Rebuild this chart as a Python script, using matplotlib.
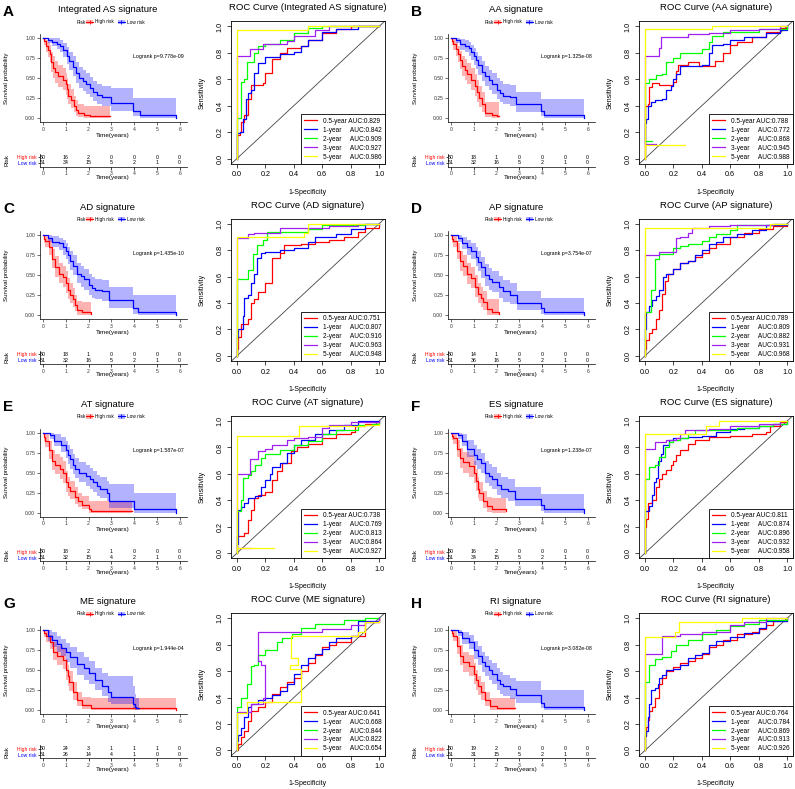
import numpy as np
import matplotlib.pyplot as plt
from matplotlib.lines import Line2D
from matplotlib.patches import Patch

plt.rcParams['font.family'] = ['Liberation Sans', 'DejaVu Sans']

# ---------------- data ----------------
letters = ['A', 'B', 'C', 'D', 'E', 'F', 'G', 'H']
titles = ['Integrated AS signature', 'AA signature', 'AD signature', 'AP signature',
          'AT signature', 'ES signature', 'ME signature', 'RI signature']
pvals = ['9.778e-09', '1.325e-08', '1.435e-10', '3.754e-07',
         '1.587e-07', '1.238e-07', '1.944e-04', '3.082e-08']
risk_high = [[50, 16, 2, 0, 0, 0, 0], [50, 18, 1, 0, 0, 0, 0], [50, 18, 1, 0, 0, 0, 0],
             [50, 14, 1, 0, 0, 0, 0], [50, 18, 2, 1, 0, 0, 0], [50, 16, 2, 0, 0, 0, 0],
             [50, 24, 3, 1, 1, 1, 0], [50, 19, 2, 0, 0, 0, 0]]
risk_low = [[51, 34, 15, 5, 2, 1, 0], [51, 32, 16, 5, 2, 1, 0], [51, 32, 16, 5, 2, 1, 0],
            [51, 36, 16, 5, 2, 1, 0], [51, 32, 15, 4, 2, 1, 0], [51, 34, 15, 5, 2, 1, 0],
            [51, 26, 14, 4, 1, 0, 0], [51, 31, 15, 5, 2, 1, 0]]
years = ['0.5-year', '1-year', '2-year', '3-year', '5-year']
auc = [[0.829, 0.842, 0.909, 0.927, 0.986], [0.788, 0.772, 0.868, 0.945, 0.988],
       [0.751, 0.807, 0.916, 0.963, 0.948], [0.789, 0.809, 0.882, 0.931, 0.968],
       [0.738, 0.769, 0.813, 0.864, 0.927], [0.811, 0.874, 0.896, 0.932, 0.958],
       [0.641, 0.668, 0.844, 0.822, 0.654], [0.764, 0.784, 0.869, 0.913, 0.926]]
roc_colors = ['#FF0000', '#0000FF', '#00FF00', '#A020F0', '#FFFF00']

# Kaplan-Meier steps: time, survival, lower CI, upper CI
A_hi_t = [0, 0.05, 0.12, 0.2, 0.29, 0.36, 0.44, 0.55, 0.66, 0.88, 1.0, 1.05, 1.12, 1.25, 1.35, 1.45, 1.55, 1.8, 2.05, 2.93]
A_hi_s = [1.0, 0.96, 0.9, 0.85, 0.8, 0.7, 0.63, 0.57, 0.52, 0.48, 0.42, 0.36, 0.28, 0.22, 0.15, 0.1, 0.06, 0.04, 0.02, 0.02]
A_hi_lo = [1.0, 0.91, 0.83, 0.76, 0.7, 0.58, 0.5, 0.44, 0.39, 0.35, 0.29, 0.24, 0.17, 0.12, 0.07, 0.03, 0.01, 0.0, 0.0, 0.0]
A_hi_up = [1.0, 1.0, 0.98, 0.95, 0.91, 0.83, 0.77, 0.71, 0.66, 0.62, 0.56, 0.5, 0.42, 0.36, 0.28, 0.22, 0.17, 0.15, 0.15, 0.15]
A_lo_t = [0, 0.2, 0.4, 0.6, 0.75, 0.9, 1.05, 1.15, 1.3, 1.45, 1.6, 1.75, 1.9, 2.05, 2.2, 2.35, 2.6, 3.0, 3.95, 4.25, 5.85]
A_lo_s = [1.0, 0.98, 0.95, 0.93, 0.9, 0.85, 0.78, 0.71, 0.64, 0.56, 0.5, 0.46, 0.42, 0.37, 0.32, 0.29, 0.26, 0.19, 0.09, 0.04, 0.0]
A_lo_lo = [1.0, 0.94, 0.9, 0.86, 0.82, 0.76, 0.68, 0.6, 0.52, 0.44, 0.38, 0.34, 0.3, 0.26, 0.21, 0.18, 0.15, 0.09, 0.02, 0.0, 0.0]
A_lo_up = [1.0, 1.0, 1.0, 1.0, 0.98, 0.94, 0.89, 0.83, 0.77, 0.7, 0.64, 0.6, 0.56, 0.51, 0.46, 0.43, 0.4, 0.38, 0.25, 0.25, 0.25]

B_hi_t = [0, 0.05, 0.1, 0.2, 0.3, 0.4, 0.5, 0.6, 0.7, 0.9, 1.05, 1.15, 1.25, 1.35, 1.5, 1.8, 2.0, 2.1]
B_hi_s = [1.0, 0.96, 0.92, 0.86, 0.8, 0.72, 0.65, 0.6, 0.55, 0.48, 0.4, 0.32, 0.25, 0.17, 0.06, 0.04, 0.02, 0.02]
B_hi_lo = [1.0, 0.91, 0.85, 0.77, 0.7, 0.61, 0.53, 0.47, 0.42, 0.35, 0.27, 0.2, 0.14, 0.08, 0.01, 0.0, 0.0, 0.0]
B_hi_up = [1.0, 1.0, 0.99, 0.95, 0.9, 0.84, 0.78, 0.74, 0.69, 0.62, 0.55, 0.47, 0.4, 0.32, 0.2, 0.2, 0.2, 0.2]
B_lo_t = [0, 0.2, 0.4, 0.6, 0.8, 0.9, 1.0, 1.1, 1.2, 1.35, 1.5, 1.65, 1.8, 2.0, 2.15, 2.3, 2.6, 2.85, 3.95, 4.1, 5.85]
B_lo_s = [1.0, 0.98, 0.92, 0.9, 0.87, 0.82, 0.77, 0.72, 0.66, 0.58, 0.52, 0.47, 0.42, 0.35, 0.31, 0.28, 0.26, 0.17, 0.09, 0.04, 0.0]
B_lo_lo = [1.0, 0.94, 0.85, 0.82, 0.78, 0.72, 0.66, 0.61, 0.54, 0.46, 0.4, 0.35, 0.3, 0.24, 0.2, 0.17, 0.15, 0.08, 0.02, 0.0, 0.0]
B_lo_up = [1.0, 1.0, 0.99, 0.97, 0.95, 0.91, 0.87, 0.83, 0.78, 0.71, 0.65, 0.6, 0.56, 0.5, 0.46, 0.43, 0.41, 0.33, 0.24, 0.24, 0.24]

C_hi_t = [0, 0.05, 0.1, 0.25, 0.4, 0.55, 0.7, 0.9, 1.0, 1.1, 1.2, 1.3, 1.4, 1.5, 1.7, 2.1]
C_hi_s = [1.0, 0.96, 0.93, 0.85, 0.7, 0.6, 0.52, 0.48, 0.4, 0.32, 0.26, 0.2, 0.13, 0.07, 0.04, 0.02]
C_hi_lo = [1.0, 0.91, 0.86, 0.76, 0.59, 0.48, 0.4, 0.35, 0.28, 0.2, 0.15, 0.1, 0.05, 0.01, 0.0, 0.0]
C_hi_up = [1.0, 1.0, 1.0, 0.95, 0.83, 0.74, 0.66, 0.62, 0.55, 0.47, 0.4, 0.34, 0.26, 0.18, 0.17, 0.17]
C_lo_t = [0, 0.2, 0.4, 0.7, 0.9, 1.0, 1.1, 1.2, 1.3, 1.5, 1.65, 1.8, 2.0, 2.15, 2.3, 2.6, 2.9, 3.95, 4.15, 5.85]
C_lo_s = [1.0, 0.97, 0.92, 0.9, 0.85, 0.8, 0.75, 0.68, 0.62, 0.52, 0.49, 0.45, 0.38, 0.34, 0.32, 0.3, 0.19, 0.09, 0.04, 0.0]
C_lo_lo = [1.0, 0.92, 0.85, 0.82, 0.76, 0.7, 0.64, 0.57, 0.5, 0.4, 0.36, 0.32, 0.26, 0.22, 0.2, 0.18, 0.09, 0.02, 0.0, 0.0]
C_lo_up = [1.0, 1.0, 0.99, 0.97, 0.94, 0.9, 0.86, 0.8, 0.75, 0.65, 0.62, 0.58, 0.52, 0.48, 0.46, 0.44, 0.35, 0.25, 0.25, 0.25]

D_hi_t = [0, 0.05, 0.1, 0.25, 0.4, 0.55, 0.7, 0.9, 1.05, 1.2, 1.3, 1.4, 1.6, 1.8, 2.1]
D_hi_s = [1.0, 0.96, 0.93, 0.8, 0.68, 0.62, 0.52, 0.47, 0.35, 0.27, 0.22, 0.17, 0.08, 0.04, 0.02]
D_hi_lo = [1.0, 0.91, 0.86, 0.7, 0.56, 0.49, 0.39, 0.34, 0.23, 0.15, 0.11, 0.07, 0.01, 0.0, 0.0]
D_hi_up = [1.0, 1.0, 1.0, 0.91, 0.81, 0.75, 0.66, 0.61, 0.5, 0.41, 0.36, 0.3, 0.2, 0.2, 0.2]
D_lo_t = [0, 0.3, 0.5, 0.7, 0.9, 1.1, 1.2, 1.3, 1.5, 1.65, 1.8, 2.1, 2.3, 2.6, 2.9, 3.95, 4.1, 5.85]
D_lo_s = [1.0, 0.97, 0.9, 0.85, 0.8, 0.73, 0.67, 0.6, 0.5, 0.45, 0.42, 0.35, 0.3, 0.26, 0.16, 0.09, 0.04, 0.0]
D_lo_lo = [1.0, 0.92, 0.83, 0.76, 0.7, 0.62, 0.55, 0.47, 0.37, 0.32, 0.29, 0.22, 0.17, 0.14, 0.07, 0.02, 0.0, 0.0]
D_lo_up = [1.0, 1.0, 0.98, 0.94, 0.9, 0.85, 0.8, 0.73, 0.64, 0.59, 0.56, 0.49, 0.44, 0.4, 0.31, 0.22, 0.22, 0.22]

E_hi_t = [0, 0.05, 0.1, 0.25, 0.4, 0.55, 0.75, 0.9, 1.0, 1.1, 1.2, 1.4, 1.55, 1.7, 2.0, 2.1, 3.9]
E_hi_s = [1.0, 0.95, 0.9, 0.78, 0.65, 0.6, 0.55, 0.5, 0.38, 0.32, 0.27, 0.2, 0.14, 0.1, 0.04, 0.02, 0.02]
E_hi_lo = [1.0, 0.89, 0.82, 0.67, 0.53, 0.48, 0.42, 0.37, 0.26, 0.21, 0.17, 0.11, 0.07, 0.04, 0.0, 0.0, 0.0]
E_hi_up = [1.0, 1.0, 0.98, 0.89, 0.78, 0.73, 0.69, 0.64, 0.52, 0.45, 0.4, 0.32, 0.25, 0.21, 0.14, 0.14, 0.14]
E_lo_t = [0, 0.3, 0.5, 0.8, 1.0, 1.1, 1.2, 1.3, 1.4, 1.6, 1.9, 2.05, 2.2, 2.35, 2.5, 2.8, 2.9, 4.0, 5.85]
E_lo_s = [1.0, 0.97, 0.9, 0.85, 0.78, 0.72, 0.67, 0.6, 0.55, 0.5, 0.46, 0.42, 0.38, 0.33, 0.3, 0.25, 0.15, 0.04, 0.0]
E_lo_lo = [1.0, 0.92, 0.83, 0.76, 0.68, 0.61, 0.55, 0.48, 0.43, 0.38, 0.33, 0.3, 0.26, 0.21, 0.18, 0.14, 0.06, 0.0, 0.0]
E_lo_up = [1.0, 1.0, 0.98, 0.94, 0.89, 0.84, 0.79, 0.73, 0.68, 0.63, 0.6, 0.56, 0.52, 0.47, 0.44, 0.39, 0.36, 0.25, 0.25]

F_hi_t = [0, 0.05, 0.1, 0.25, 0.4, 0.55, 0.8, 1.0, 1.1, 1.2, 1.25, 1.4, 1.6, 1.8, 2.4]
F_hi_s = [1.0, 0.96, 0.93, 0.8, 0.68, 0.63, 0.58, 0.5, 0.4, 0.3, 0.25, 0.15, 0.08, 0.04, 0.02]
F_hi_lo = [1.0, 0.91, 0.86, 0.7, 0.56, 0.5, 0.45, 0.37, 0.27, 0.18, 0.14, 0.06, 0.01, 0.0, 0.0]
F_hi_up = [1.0, 1.0, 1.0, 0.91, 0.81, 0.76, 0.72, 0.64, 0.54, 0.44, 0.38, 0.27, 0.19, 0.18, 0.18]
F_lo_t = [0, 0.3, 0.5, 0.7, 1.0, 1.15, 1.3, 1.5, 1.65, 1.8, 2.0, 2.2, 2.5, 2.8, 3.95, 4.1, 5.85]
F_lo_s = [1.0, 0.97, 0.9, 0.8, 0.72, 0.67, 0.62, 0.5, 0.46, 0.42, 0.35, 0.3, 0.27, 0.17, 0.09, 0.04, 0.0]
F_lo_lo = [1.0, 0.92, 0.83, 0.7, 0.6, 0.55, 0.49, 0.37, 0.33, 0.29, 0.22, 0.18, 0.15, 0.08, 0.02, 0.0, 0.0]
F_lo_up = [1.0, 1.0, 0.98, 0.91, 0.84, 0.8, 0.75, 0.65, 0.61, 0.57, 0.5, 0.45, 0.42, 0.32, 0.23, 0.23, 0.23]

G_hi_t = [0, 0.05, 0.15, 0.3, 0.45, 0.6, 0.9, 1.0, 1.08, 1.15, 1.3, 1.5, 1.7, 2.1, 5.85]
G_hi_s = [1.0, 0.96, 0.92, 0.85, 0.73, 0.68, 0.63, 0.5, 0.42, 0.35, 0.22, 0.12, 0.06, 0.02, 0.0]
G_hi_lo = [1.0, 0.91, 0.85, 0.76, 0.62, 0.56, 0.51, 0.38, 0.3, 0.24, 0.12, 0.05, 0.01, 0.0, 0.0]
G_hi_up = [1.0, 1.0, 1.0, 0.94, 0.85, 0.8, 0.76, 0.64, 0.56, 0.49, 0.35, 0.23, 0.16, 0.15, 0.15]
G_lo_t = [0, 0.2, 0.4, 0.6, 0.8, 1.0, 1.2, 1.5, 1.8, 2.0, 2.3, 2.6, 2.85, 3.0, 3.95, 4.05, 4.1, 4.2]
G_lo_s = [1.0, 0.93, 0.88, 0.83, 0.78, 0.72, 0.66, 0.58, 0.52, 0.46, 0.38, 0.3, 0.22, 0.16, 0.08, 0.04, 0.02, 0.02]
G_lo_lo = [1.0, 0.86, 0.79, 0.73, 0.67, 0.6, 0.53, 0.44, 0.38, 0.32, 0.25, 0.17, 0.1, 0.07, 0.01, 0.0, 0.0, 0.0]
G_lo_up = [1.0, 1.0, 0.97, 0.93, 0.89, 0.84, 0.79, 0.72, 0.66, 0.61, 0.53, 0.46, 0.42, 0.42, 0.3, 0.2, 0.15, 0.15]

H_hi_t = [0, 0.05, 0.1, 0.25, 0.4, 0.55, 0.8, 1.0, 1.1, 1.2, 1.3, 1.5, 1.7, 2.0, 2.8]
H_hi_s = [1.0, 0.96, 0.93, 0.8, 0.68, 0.6, 0.55, 0.45, 0.37, 0.3, 0.22, 0.12, 0.05, 0.02, 0.02]
H_hi_lo = [1.0, 0.91, 0.86, 0.7, 0.56, 0.47, 0.42, 0.32, 0.25, 0.19, 0.12, 0.05, 0.0, 0.0, 0.0]
H_hi_up = [1.0, 1.0, 1.0, 0.91, 0.81, 0.73, 0.69, 0.59, 0.5, 0.43, 0.35, 0.23, 0.15, 0.15, 0.15]
H_lo_t = [0, 0.3, 0.5, 0.8, 1.0, 1.2, 1.35, 1.5, 1.65, 1.8, 2.0, 2.15, 2.3, 2.6, 2.85, 3.95, 4.1, 5.85]
H_lo_s = [1.0, 0.97, 0.9, 0.85, 0.75, 0.68, 0.6, 0.55, 0.5, 0.45, 0.38, 0.33, 0.3, 0.26, 0.19, 0.09, 0.04, 0.0]
H_lo_lo = [1.0, 0.92, 0.83, 0.76, 0.64, 0.56, 0.48, 0.42, 0.37, 0.32, 0.25, 0.2, 0.17, 0.14, 0.09, 0.02, 0.0, 0.0]
H_lo_up = [1.0, 1.0, 0.98, 0.94, 0.86, 0.8, 0.73, 0.68, 0.63, 0.59, 0.52, 0.47, 0.44, 0.4, 0.36, 0.25, 0.25, 0.25]

# ROC curves (1-specificity, sensitivity), order: 0.5, 1, 2, 3, 5 year
A_fpr = [[0, 0, 0.02, 0.03, 0.05, 0.08, 0.1, 0.18, 0.2, 0.25, 0.3, 0.35, 0.45, 0.5, 0.6, 0.7, 0.8, 1.0],
         [0, 0, 0.02, 0.04, 0.06, 0.08, 0.1, 0.12, 0.15, 0.2, 0.3, 0.4, 0.45, 0.5, 0.6, 0.7, 0.85, 1.0],
         [0, 0, 0.03, 0.05, 0.07, 0.1, 0.12, 0.15, 0.2, 0.3, 0.4, 0.5, 0.6, 1.0],
         [0, 0, 0.09, 0.18, 0.35, 0.4, 0.55, 0.65, 1.0],
         [0, 0, 0.5, 1.0]]
A_tpr = [[0, 0.18, 0.2, 0.28, 0.33, 0.45, 0.56, 0.57, 0.65, 0.75, 0.8, 0.84, 0.85, 0.9, 0.95, 0.98, 1.0, 1.0],
         [0, 0.19, 0.2, 0.3, 0.45, 0.5, 0.52, 0.65, 0.72, 0.77, 0.79, 0.81, 0.85, 0.9, 0.96, 0.98, 1.0, 1.0],
         [0, 0.31, 0.58, 0.6, 0.73, 0.73, 0.8, 0.85, 0.87, 0.9, 0.95, 0.99, 1.0, 1.0],
         [0, 0.78, 0.83, 0.87, 0.89, 0.93, 0.97, 1.0, 1.0],
         [0, 0.97, 1.0, 1.0]]

B_fpr = [[0, 0, 0.02, 0.03, 0.05, 0.1, 0.2, 0.22, 0.23, 0.3, 0.38, 0.49, 0.55, 0.6, 0.65, 0.75, 0.85, 0.95, 1.0],
         [0, 0, 0.01, 0.02, 0.04, 0.07, 0.12, 0.15, 0.18, 0.2, 0.22, 0.25, 0.4, 0.45, 0.47, 0.55, 0.6, 0.7, 0.85, 0.95, 1.0],
         [0.05, 0, 0, 0.03, 0.08, 0.12, 0.15, 0.2, 0.25, 0.4, 0.45, 0.47, 0.55, 0.8, 1.0],
         [0.08, 0, 0, 0.1, 0.11, 0.3, 0.45, 0.6, 0.8, 0.95, 1.0],
         [0.28, 0, 0, 0, 0.47, 1.0]]
B_tpr = [[0, 0.4, 0.41, 0.54, 0.57, 0.56, 0.58, 0.66, 0.71, 0.73, 0.7, 0.74, 0.8, 0.86, 0.88, 0.92, 0.96, 0.99, 1.0],
         [0, 0.27, 0.3, 0.4, 0.43, 0.44, 0.45, 0.52, 0.55, 0.6, 0.64, 0.7, 0.71, 0.8, 0.86, 0.87, 0.9, 0.92, 0.95, 0.97, 1.0],
         [0.13, 0.13, 0.57, 0.6, 0.63, 0.64, 0.73, 0.76, 0.8, 0.83, 0.88, 0.93, 0.96, 0.98, 1.0],
         [0.11, 0.11, 0.78, 0.84, 0.92, 0.94, 0.95, 0.97, 0.98, 1.0, 1.0],
         [0.105, 0.105, 0.0, 0.98, 1.0, 1.0]]

C_fpr = [[0, 0, 0.01, 0.03, 0.08, 0.1, 0.12, 0.15, 0.2, 0.25, 0.3, 0.33, 0.45, 0.55, 0.65, 0.75, 0.85, 0.9, 1.0],
         [0, 0, 0.01, 0.04, 0.05, 0.08, 0.1, 0.12, 0.14, 0.17, 0.2, 0.3, 0.4, 0.5, 0.55, 0.7, 0.8, 0.9, 1.0],
         [0, 0, 0.08, 0.11, 0.14, 0.18, 0.21, 0.35, 0.5, 0.6, 0.9, 1.0],
         [0, 0, 0.08, 0.12, 0.3, 0.65, 0.85, 1.0],
         [0, 0, 0.47, 0.5, 1.0]]
C_tpr = [[0, 0.05, 0.14, 0.24, 0.28, 0.4, 0.43, 0.48, 0.55, 0.74, 0.78, 0.84, 0.85, 0.86, 0.88, 0.9, 0.94, 0.97, 1.0],
         [0, 0.14, 0.2, 0.3, 0.44, 0.46, 0.55, 0.62, 0.74, 0.78, 0.79, 0.8, 0.82, 0.86, 0.9, 0.92, 0.96, 1.0, 1.0],
         [0, 0.58, 0.65, 0.77, 0.84, 0.88, 0.94, 0.94, 0.96, 0.99, 1.0, 1.0],
         [0, 0.89, 0.92, 0.93, 0.97, 0.98, 1.0, 1.0],
         [0, 0.9, 0.93, 1.0, 1.0]]

D_fpr = [[0, 0, 0.01, 0.03, 0.05, 0.08, 0.1, 0.12, 0.14, 0.16, 0.2, 0.25, 0.3, 0.35, 0.4, 0.45, 0.5, 0.6, 0.7, 0.8, 0.9, 1.0],
         [0, 0, 0.01, 0.03, 0.05, 0.08, 0.1, 0.13, 0.15, 0.2, 0.25, 0.3, 0.35, 0.4, 0.45, 0.5, 0.55, 0.65, 0.75, 0.85, 1.0],
         [0, 0, 0.04, 0.07, 0.1, 0.2, 0.25, 0.3, 0.4, 0.45, 0.5, 0.6, 0.65, 0.9, 1.0],
         [0, 0, 0.1, 0.22, 0.25, 0.3, 0.33, 0.45, 0.6, 0.9, 1.0],
         [0, 0, 0.88, 1.0]]
D_tpr = [[0, 0.05, 0.12, 0.17, 0.2, 0.28, 0.35, 0.47, 0.57, 0.62, 0.66, 0.7, 0.72, 0.75, 0.78, 0.82, 0.85, 0.9, 0.93, 0.96, 0.98, 1.0],
         [0, 0.2, 0.33, 0.38, 0.42, 0.45, 0.5, 0.6, 0.62, 0.66, 0.7, 0.72, 0.76, 0.8, 0.85, 0.86, 0.9, 0.92, 0.95, 0.99, 1.0],
         [0, 0.33, 0.5, 0.73, 0.77, 0.82, 0.83, 0.85, 0.87, 0.9, 0.92, 0.95, 0.99, 1.0, 1.0],
         [0, 0.76, 0.79, 0.89, 0.9, 0.93, 0.97, 0.98, 0.99, 1.0, 1.0],
         [0, 0.97, 1.0, 1.0]]

E_fpr = [[0, 0, 0.05, 0.08, 0.1, 0.12, 0.15, 0.2, 0.25, 0.28, 0.32, 0.38, 0.42, 0.5, 0.6, 0.7, 0.8, 0.83, 0.9, 1.0],
         [0, 0, 0.005, 0.01, 0.03, 0.05, 0.08, 0.13, 0.17, 0.2, 0.23, 0.25, 0.3, 0.35, 0.4, 0.45, 0.55, 0.65, 0.75, 0.85, 1.0],
         [0, 0, 0.03, 0.04, 0.08, 0.1, 0.13, 0.17, 0.2, 0.3, 0.4, 0.5, 0.6, 0.7, 0.85, 0.95, 1.0],
         [0.1, 0, 0, 0.09, 0.15, 0.2, 0.25, 0.35, 0.4, 0.5, 0.6, 0.65, 0.8, 1.0],
         [0.26, 0, 0, 0, 0.44, 0.9, 1.0]]
E_tpr = [[0, 0.13, 0.15, 0.25, 0.33, 0.42, 0.44, 0.46, 0.55, 0.62, 0.68, 0.77, 0.8, 0.83, 0.87, 0.9, 0.92, 0.96, 0.98, 1.0],
         [0, 0.07, 0.13, 0.33, 0.35, 0.38, 0.42, 0.43, 0.5, 0.55, 0.6, 0.65, 0.68, 0.76, 0.82, 0.86, 0.9, 0.93, 0.97, 1.0, 1.0],
         [0, 0.32, 0.4, 0.57, 0.59, 0.62, 0.67, 0.72, 0.75, 0.78, 0.82, 0.85, 0.9, 0.93, 0.97, 0.98, 1.0],
         [0.035, 0.035, 0.6, 0.71, 0.77, 0.79, 0.82, 0.86, 0.87, 0.88, 0.95, 0.97, 0.99, 1.0],
         [0.035, 0.035, 0.0, 0.89, 0.96, 0.97, 0.98]]

F_fpr = [[0, 0, 0.01, 0.02, 0.05, 0.08, 0.1, 0.12, 0.15, 0.18, 0.2, 0.22, 0.25, 0.3, 0.35, 0.45, 0.6, 0.75, 0.85, 0.88, 0.95, 1.0],
         [0, 0, 0.03, 0.05, 0.06, 0.08, 0.09, 0.11, 0.13, 0.17, 0.2, 0.3, 0.4, 0.5, 0.6, 0.7, 0.8, 0.9, 1.0],
         [0, 0, 0.03, 0.07, 0.1, 0.14, 0.17, 0.2, 0.25, 0.3, 0.35, 0.5, 0.65, 0.8, 0.9, 1.0],
         [0, 0, 0.07, 0.15, 0.22, 0.25, 0.28, 0.45, 0.6, 0.8, 0.95, 1.0],
         [0, 0, 0.43, 0.52, 1.0]]
F_tpr = [[0, 0.2, 0.26, 0.38, 0.4, 0.5, 0.56, 0.6, 0.63, 0.67, 0.7, 0.74, 0.78, 0.83, 0.86, 0.88, 0.89, 0.9, 0.92, 0.96, 0.99, 1.0],
         [0, 0.32, 0.36, 0.44, 0.54, 0.57, 0.7, 0.75, 0.82, 0.86, 0.87, 0.88, 0.89, 0.92, 0.94, 0.95, 0.96, 0.98, 1.0],
         [0, 0.56, 0.65, 0.67, 0.73, 0.8, 0.84, 0.86, 0.87, 0.9, 0.93, 0.93, 0.95, 0.96, 0.98, 1.0],
         [0, 0.79, 0.84, 0.86, 0.87, 0.9, 0.93, 0.94, 0.96, 0.98, 1.0, 1.0],
         [0, 0.9, 0.96, 1.0, 1.0]]

G_fpr = [[0, 0.01, 0.03, 0.05, 0.08, 0.1, 0.15, 0.2, 0.25, 0.3, 0.35, 0.4, 0.45, 0.5, 0.55, 0.6, 0.65, 0.7, 0.8, 0.9, 1.0],
         [0, 0, 0.01, 0.03, 0.05, 0.08, 0.1, 0.15, 0.2, 0.25, 0.3, 0.35, 0.4, 0.45, 0.5, 0.55, 0.6, 0.65, 0.7, 0.8, 0.85, 1.0],
         [0, 0, 0.03, 0.07, 0.1, 0.12, 0.15, 0.2, 0.28, 0.32, 0.35, 0.39, 0.45, 0.55, 0.75, 0.9, 1.0],
         [0, 0, 0.1, 0.18, 0.2, 0.17, 0.15, 0.15, 0.4, 0.6, 0.8, 0.9, 1.0],
         [0, 0, 0.07, 0.45, 0.37, 0.43, 0.38, 0.85, 0.9, 1.0]]
G_tpr = [[0, 0.05, 0.1, 0.15, 0.22, 0.3, 0.33, 0.37, 0.43, 0.48, 0.52, 0.55, 0.6, 0.66, 0.72, 0.78, 0.8, 0.82, 0.87, 0.97, 1.0],
         [0, 0.07, 0.12, 0.17, 0.25, 0.33, 0.35, 0.38, 0.4, 0.42, 0.45, 0.5, 0.58, 0.65, 0.7, 0.73, 0.77, 0.82, 0.85, 0.87, 0.98, 1.0],
         [0, 0.33, 0.4, 0.5, 0.64, 0.65, 0.72, 0.76, 0.82, 0.85, 0.85, 0.88, 0.93, 0.96, 0.99, 1.0, 1.0],
         [0, 0.29, 0.35, 0.4, 0.65, 0.68, 0.8, 0.9, 0.9, 0.92, 0.95, 0.97, 1.0],
         [0, 0.28, 0.37, 0.62, 0.65, 0.7, 0.87, 0.9, 0.97, 0.98]]

H_fpr = [[0, 0, 0.01, 0.02, 0.03, 0.05, 0.07, 0.1, 0.12, 0.15, 0.2, 0.25, 0.3, 0.35, 0.4, 0.45, 0.5, 0.55, 0.65, 0.75, 0.8, 0.85, 0.9, 1.0],
         [0, 0, 0.01, 0.02, 0.03, 0.04, 0.07, 0.09, 0.1, 0.12, 0.15, 0.2, 0.25, 0.3, 0.35, 0.4, 0.45, 0.5, 0.6, 0.7, 0.8, 0.85, 1.0],
         [0, 0, 0.03, 0.07, 0.12, 0.18, 0.22, 0.3, 0.4, 0.5, 0.6, 0.7, 0.8, 1.0],
         [0, 0, 0.12, 0.25, 0.4, 0.6, 0.7, 0.85, 1.0],
         [0, 0, 0.21, 0.24, 0.68, 1.0]]
H_tpr = [[0, 0.12, 0.18, 0.23, 0.3, 0.33, 0.4, 0.5, 0.55, 0.6, 0.63, 0.66, 0.68, 0.7, 0.73, 0.78, 0.8, 0.84, 0.88, 0.9, 0.92, 0.95, 0.98, 1.0],
         [0, 0.11, 0.15, 0.25, 0.35, 0.46, 0.47, 0.5, 0.55, 0.57, 0.61, 0.62, 0.65, 0.7, 0.72, 0.74, 0.8, 0.83, 0.86, 0.89, 0.93, 0.98, 1.0],
         [0, 0.52, 0.65, 0.69, 0.71, 0.75, 0.8, 0.84, 0.88, 0.91, 0.94, 0.96, 0.99, 1.0],
         [0, 0.73, 0.87, 0.88, 0.9, 0.95, 0.97, 1.0, 1.0],
         [0, 0.86, 0.9, 0.97, 1.0, 1.0]]

km_high = [(A_hi_t, A_hi_s, A_hi_lo, A_hi_up), (B_hi_t, B_hi_s, B_hi_lo, B_hi_up),
           (C_hi_t, C_hi_s, C_hi_lo, C_hi_up), (D_hi_t, D_hi_s, D_hi_lo, D_hi_up),
           (E_hi_t, E_hi_s, E_hi_lo, E_hi_up), (F_hi_t, F_hi_s, F_hi_lo, F_hi_up),
           (G_hi_t, G_hi_s, G_hi_lo, G_hi_up), (H_hi_t, H_hi_s, H_hi_lo, H_hi_up)]
km_low = [(A_lo_t, A_lo_s, A_lo_lo, A_lo_up), (B_lo_t, B_lo_s, B_lo_lo, B_lo_up),
          (C_lo_t, C_lo_s, C_lo_lo, C_lo_up), (D_lo_t, D_lo_s, D_lo_lo, D_lo_up),
          (E_lo_t, E_lo_s, E_lo_lo, E_lo_up), (F_lo_t, F_lo_s, F_lo_lo, F_lo_up),
          (G_lo_t, G_lo_s, G_lo_lo, G_lo_up), (H_lo_t, H_lo_s, H_lo_lo, H_lo_up)]
roc_fpr = [A_fpr, B_fpr, C_fpr, D_fpr, E_fpr, F_fpr, G_fpr, H_fpr]
roc_tpr = [A_tpr, B_tpr, C_tpr, D_tpr, E_tpr, F_tpr, G_tpr, H_tpr]

# ---------------- drawing ----------------
W, H = 795, 789
fig = plt.figure(figsize=(W / 100, H / 100), dpi=100)
fig.patch.set_facecolor('white')


def box(l, t, w, h):
    return fig.add_axes([l / W, 1 - (t + h) / H, w / W, h / H])


def txt(x, y, s, **kw):
    fig.text(x / W, 1 - y / H, s, **kw)


for i in range(8):
    r, c = i // 2, i % 2
    ox, oy = 408 * c, 197.3 * r

    txt(3 + ox, 12 + oy, letters[i], fontsize=11, weight='bold', va='center')

    # --- survival curve ---
    ax = box(40 + ox, 34 + oy, 147, 88)
    for (t, s, lo, up), col in [(km_high[i], '#FF0000'), (km_low[i], '#0000FF')]:
        ax.fill_between(t, lo, up, step='post', color=col, alpha=0.3, lw=0)
        ax.step(t, s, where='post', color=col, lw=0.9)
    ax.set_xlim(-0.13, 6.32)
    ax.set_ylim(-0.05, 1.05)
    ax.set_xticks(range(7))
    ax.set_yticks([0, 0.25, 0.5, 0.75, 1.0])
    ax.set_yticklabels(['0.00', '0.25', '0.50', '0.75', '1.00'])
    for sp in ['top', 'right']:
        ax.spines[sp].set_visible(False)
    for sp in ['left', 'bottom']:
        ax.spines[sp].set_linewidth(0.5)
    ax.tick_params(labelsize=3.6, length=2, width=0.5, pad=1.5, colors='#333333', labelcolor='#333333')
    ax.text(5.05, 0.77, 'Logrank p=' + pvals[i], fontsize=3.8, ha='center', va='center')

    txt(108 + ox, 10 + oy, titles[i], fontsize=6.8, ha='center', va='center')
    txt(7 + ox, 78 + oy, 'Survival probability', fontsize=4.4, rotation=90, ha='center', va='center')
    txt(113 + ox, 135 + oy, 'Time(years)', fontsize=4.6, ha='center', va='center')

    txt(77 + ox, 22 + oy, 'Risk', fontsize=3.4, ha='left', va='center')
    handles = [(Patch(facecolor='#FF0000', alpha=0.3, lw=0),
                Line2D([], [], color='#FF0000', lw=0.8, marker='+', ms=3, mew=0.6)),
               (Patch(facecolor='#0000FF', alpha=0.3, lw=0),
                Line2D([], [], color='#0000FF', lw=0.8, marker='+', ms=3, mew=0.6))]
    fig.legend(handles, ['High risk', 'Low risk'], loc='center left',
               bbox_to_anchor=((86 + ox) / W, 1 - (22 + oy) / H), ncol=2, frameon=False,
               fontsize=3.4, handlelength=1.5, handleheight=1.0, handletextpad=0.4,
               columnspacing=0.8, borderpad=0, borderaxespad=0)

    # --- risk table ---
    rt = box(40 + ox, 153.5 + oy, 147, 13)
    rt.set_xlim(-0.13, 6.32)
    rt.set_ylim(-0.6, 1.6)
    for k in range(7):
        rt.text(k, 1, str(risk_high[i][k]), fontsize=3.8, ha='center', va='center')
        rt.text(k, 0, str(risk_low[i][k]), fontsize=3.8, ha='center', va='center')
    rt.set_xticks(range(7))
    rt.set_yticks([1, 0])
    rt.set_yticklabels(['High risk', 'Low risk'])
    rt.get_yticklabels()[0].set_color('#FF0000')
    rt.get_yticklabels()[1].set_color('#0000FF')
    for sp in ['top', 'right']:
        rt.spines[sp].set_visible(False)
    for sp in ['left', 'bottom']:
        rt.spines[sp].set_linewidth(0.5)
    rt.tick_params(axis='y', labelsize=3.6, length=1.5, width=0.5, pad=1)
    rt.tick_params(axis='x', labelsize=3.6, length=2, width=0.5, pad=1.5, labelcolor='#333333')
    txt(7 + ox, 160 + oy, 'Risk', fontsize=4.4, rotation=90, ha='center', va='center')
    txt(113 + ox, 177.5 + oy, 'Time(years)', fontsize=4.6, ha='center', va='center')

    # --- ROC curve ---
    ra = box(231.3 + ox, 21.2 + oy, 153.4, 142.6)
    ra.axline((0, 0), slope=1, color='#444444', lw=0.6)
    for k in range(5):
        pad = ' ' if k == 0 else '     '
        ra.step(roc_fpr[i][k], roc_tpr[i][k], where='post', color=roc_colors[k], lw=0.9,
                label='%s%sAUC:%.3f' % (years[k], pad, auc[i][k]))
    ra.set_xlim(-0.04, 1.04)
    ra.set_ylim(-0.04, 1.04)
    ticks = [0, 0.2, 0.4, 0.6, 0.8, 1.0]
    ra.set_xticks(ticks)
    ra.set_xticklabels(['%.1f' % v for v in ticks])
    ra.set_yticks(ticks)
    ra.set_yticklabels(['%.1f' % v for v in ticks], rotation=90, va='center')
    for sp in ra.spines.values():
        sp.set_linewidth(0.6)
    ra.tick_params(labelsize=5.2, length=3, width=0.5, pad=2.5)
    leg = ra.legend(loc='lower right', fontsize=4.7, fancybox=False, edgecolor='black',
                    framealpha=1, borderaxespad=0, handlelength=2.0, labelspacing=0.3,
                    borderpad=0.5, handletextpad=0.8)
    leg.get_frame().set_linewidth(0.6)
    txt(308 + ox, 8 + oy, 'ROC Curve (' + titles[i] + ')', fontsize=6.8, ha='center', va='center')
    txt(201.7 + ox, 92.5 + oy, 'Sensitivity', fontsize=5.0, rotation=90, ha='center', va='center')
    txt(308 + ox, 192 + oy, '1-Specificity', fontsize=5.0, ha='center', va='center')

fig.savefig('out.png', dpi=100)
